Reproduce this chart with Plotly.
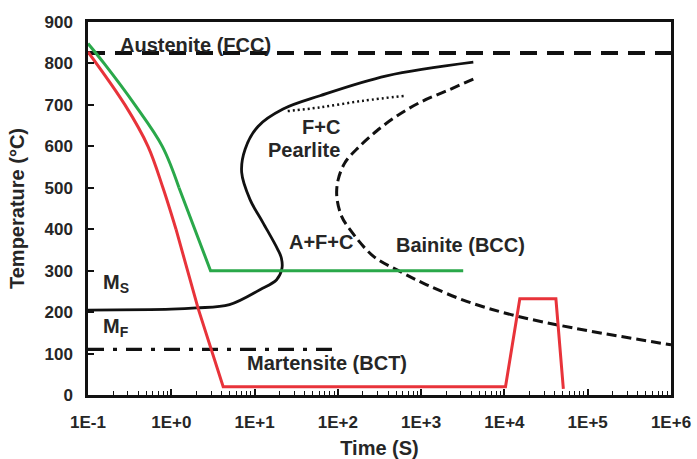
import math
import plotly.graph_objects as go

# ---- data (time in s, temperature in °C) ----
austenite_t = [0.1, 1e6]
austenite_T = [825, 825]

mf_t = [0.1, 85]
mf_T = [110, 110]

green_curve_t = [0.1, 0.156, 0.366, 0.78, 1.238]
green_curve_T = [848, 800, 700, 600, 500]
green_line_t = [1.238, 1.93, 2.96, 3200]
green_line_T = [500, 400, 300, 300]

red_curve_t = [0.1, 0.278, 0.525, 0.794, 1.139]
red_curve_T = [828, 700, 600, 500, 400]
red_line_t = [1.139, 2.1, 4.2, 1.03e4, 1.53e4, 4.15e4, 5.1e4]
red_line_T = [400, 209, 20, 20, 232, 232, 15]

pearlite_t = [0.1, 1, 2, 5, 11.6, 18.4, 21.3, 21, 19, 12.6, 8.8, 7.0, 7.7, 11, 22, 61, 385, 4230]
pearlite_T = [205, 207, 210, 218, 254, 278, 305, 330, 351, 416, 472, 537, 593, 648, 690, 722, 770, 803]

dotted_t = [25, 61, 202, 640]
dotted_T = [685, 694, 710, 722]

bainite_t = [4230, 2030, 968, 508, 292, 176, 122, 101, 97, 111, 140, 266, 557, 1165, 3520, 1.2e4, 6.6e4, 1e6]
bainite_T = [762, 734, 706, 673, 637, 597, 561, 520, 480, 431, 399, 335, 298, 266, 226, 194, 162, 121]

x_tickvals = [1e-1, 1e0, 1e1, 1e2, 1e3, 1e4, 1e5, 1e6]
x_ticktext = ["1E-1", "1E+0", "1E+1", "1E+2", "1E+3", "1E+4", "1E+5", "1E+6"]

label_text = ["Austenite (FCC)", "F+C", "Pearlite", "A+F+C", "Bainite (BCC)",
              "M<sub>S</sub>", "M<sub>F</sub>", "Martensite (BCT)"]
label_t = [1.98, 62.7, 39.2, 62.7, 3000, 0.217, 0.217, 74]
label_T = [844, 646, 592, 368, 362, 268, 164, 77]

GREEN = "#2aa84a"
RED = "#e8333a"
BLACK = "#111111"
TXT = "#262626"
FONT = "Liberation Sans, Arial, sans-serif"

fig = go.Figure()


def add(t, T, color, dash="solid", width=3, shape="linear"):
    line = dict(color=color, width=width, dash=dash, shape=shape)
    if shape == "spline":
        line["smoothing"] = 1.0
    fig.add_trace(go.Scatter(x=t, y=T, mode="lines", line=line,
                             showlegend=False, hoverinfo="skip"))


add(austenite_t, austenite_T, BLACK, dash="17px,10px", width=4)
add(mf_t, mf_T, BLACK, dash="16px,9px,4px,9px", width=3.2)
add(pearlite_t, pearlite_T, BLACK, width=2.8, shape="spline")
add(dotted_t, dotted_T, BLACK, dash="2px,3px", width=2.5, shape="spline")
add(bainite_t, bainite_T, BLACK, dash="10px,5px", width=3, shape="spline")
add(green_curve_t, green_curve_T, GREEN, width=3, shape="spline")
add(green_line_t, green_line_T, GREEN, width=3)
add(red_curve_t, red_curve_T, RED, width=3, shape="spline")
add(red_line_t, red_line_T, RED, width=3)

for txt, x, y in zip(label_text, label_t, label_T):
    fig.add_annotation(x=math.log10(x), y=y, text=txt, showarrow=False,
                       font=dict(family=FONT, size=20, color=TXT, weight="bold"),
                       xanchor="center", yanchor="middle")

minor_vals = [m * 10 ** e for e in range(-1, 6) for m in range(2, 10)]

fig.update_layout(
    width=697, height=459,
    margin=dict(l=88, r=26, t=22, b=64),
    paper_bgcolor="white", plot_bgcolor="white",
    font=dict(family=FONT, size=17, color=TXT, weight="bold"),
    xaxis=dict(type="log", range=[-1, 6], tickvals=x_tickvals, ticktext=x_ticktext,
               automargin=False,
               ticks="inside", ticklen=6, tickwidth=1.5, tickcolor=BLACK,
               showline=True, linecolor=BLACK, linewidth=2.5, mirror=True,
               showgrid=False, zeroline=False, ticklabelstandoff=10,
               minor=dict(tickvals=minor_vals, ticks="inside", ticklen=4, tickwidth=1.2,
                          tickcolor=BLACK, showgrid=False),
               tickfont=dict(size=17, family=FONT, weight="bold", color=TXT),
               title=dict(text="Time (S)", font=dict(size=20, family=FONT, weight="bold", color=TXT))),
    yaxis=dict(range=[0, 900], dtick=100, tick0=0, automargin=False,
               ticks="inside", ticklen=6, tickwidth=1.5, tickcolor=BLACK,
               showline=True, linecolor=BLACK, linewidth=2.5, mirror=True,
               showgrid=False, zeroline=False, ticklabelstandoff=9,
               tickfont=dict(size=17, family=FONT, weight="bold", color=TXT),
               title=dict(text="Temperature (°C)", font=dict(size=20, family=FONT, weight="bold", color=TXT))),
)

fig.write_html("out.html", config={"displayModeBar": False},
               post_script="document.body.style.margin='0px';document.body.style.overflow='hidden';")
